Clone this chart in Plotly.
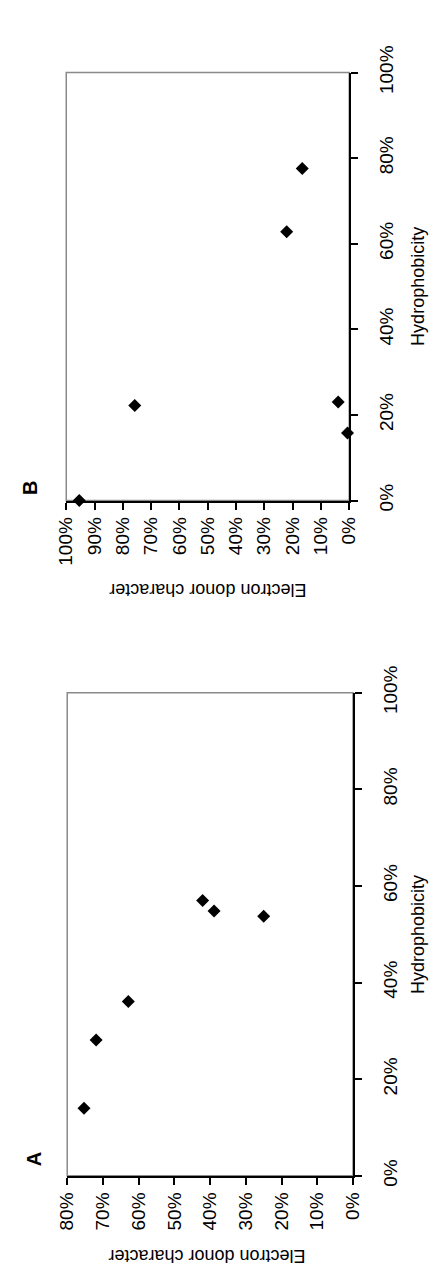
import plotly.graph_objects as go

# Panel A data
a_donor = [0.753, 0.719, 0.629, 0.421, 0.389, 0.250]
a_hydro = [0.140, 0.281, 0.361, 0.570, 0.548, 0.537]
# Panel B data
b_donor = [0.166, 0.221, 0.758, 0.039, 0.006, 0.954]
b_hydro = [0.776, 0.628, 0.222, 0.230, 0.158, 0.0]

donor_title = "Electron donor character"
hydro_title = "Hydrophobicity"
panel_labels = ["A", "B"]

W, H = 444, 1280
FONT = "Liberation Sans, Arial, sans-serif"


def px(x):
    return x / W


def py(y):
    return 1 - y / H


fig = go.Figure()
mk = dict(symbol="diamond", size=10, color="black")
fig.add_trace(go.Scatter(x=a_donor, y=a_hydro, mode="markers", marker=mk,
                         xaxis="x", yaxis="y", cliponaxis=False, showlegend=False))
fig.add_trace(go.Scatter(x=b_donor, y=b_hydro, mode="markers", marker=mk,
                         xaxis="x2", yaxis="y2", cliponaxis=False, showlegend=False))

hax = dict(showline=True, linecolor="black", linewidth=2, ticks="outside",
           ticklen=7, tickwidth=2, tickcolor="black", tickangle=-90,
           tickformat=".0%", showgrid=False, zeroline=False,
           tickfont=dict(family=FONT, size=19, color="black"))
vax = dict(showline=True, linecolor="black", linewidth=2, ticks="outside",
           ticklen=7, tickwidth=2, tickcolor="black", tickangle=-90,
           tickformat=".0%", showgrid=False, zeroline=False, side="right",
           dtick=0.2, ticklabelstandoff=12,
           tickfont=dict(family=FONT, size=19, color="black"))

fig.update_layout(
    width=W, height=H,
    margin=dict(l=0, r=0, t=0, b=0, pad=0),
    paper_bgcolor="white", plot_bgcolor="white",
    xaxis=dict(hax, domain=[px(59), px(359)], range=[0.8, 0], dtick=0.1, anchor="y"),
    yaxis=dict(vax, domain=[py(1184), py(686)], range=[0, 1], anchor="x"),
    xaxis2=dict(hax, domain=[px(58), px(355)], range=[1, 0], dtick=0.1, anchor="y2"),
    yaxis2=dict(vax, domain=[py(488), py(47)], range=[0, 1], anchor="x2"),
)

# gray frame (left/top edges)
for xr, yr in (("x", "y"), ("x2", "y2")):
    fig.add_shape(type="rect", xref=f"{xr} domain", yref=f"{yr} domain",
                  x0=0, x1=1, y0=0, y1=1, line=dict(color="#8a8a8a", width=1.5),
                  layer="below")

tfont = dict(family=FONT, size=18, color="black")
anns = [
    dict(text=donor_title, x=px(206), y=py(1266), textangle=180),
    dict(text=donor_title, x=px(207), y=py(580), textangle=180),
    dict(text=hydro_title, x=px(427), y=py(935), textangle=-90),
    dict(text=hydro_title, x=px(427), y=py(267), textangle=-90),
]
for a in anns:
    fig.add_annotation(xref="paper", yref="paper", showarrow=False,
                       xanchor="center", yanchor="middle", font=tfont, **a)

for lab, (x, y) in zip(panel_labels, [(24, 1167), (20, 475)]):
    fig.add_annotation(text=f"<b>{lab}</b>", xref="paper", yref="paper",
                       x=px(x), y=py(y), showarrow=False, textangle=-90,
                       xanchor="center", yanchor="middle",
                       font=dict(family=FONT, size=20, color="black"))

fig.write_html("out.html")
